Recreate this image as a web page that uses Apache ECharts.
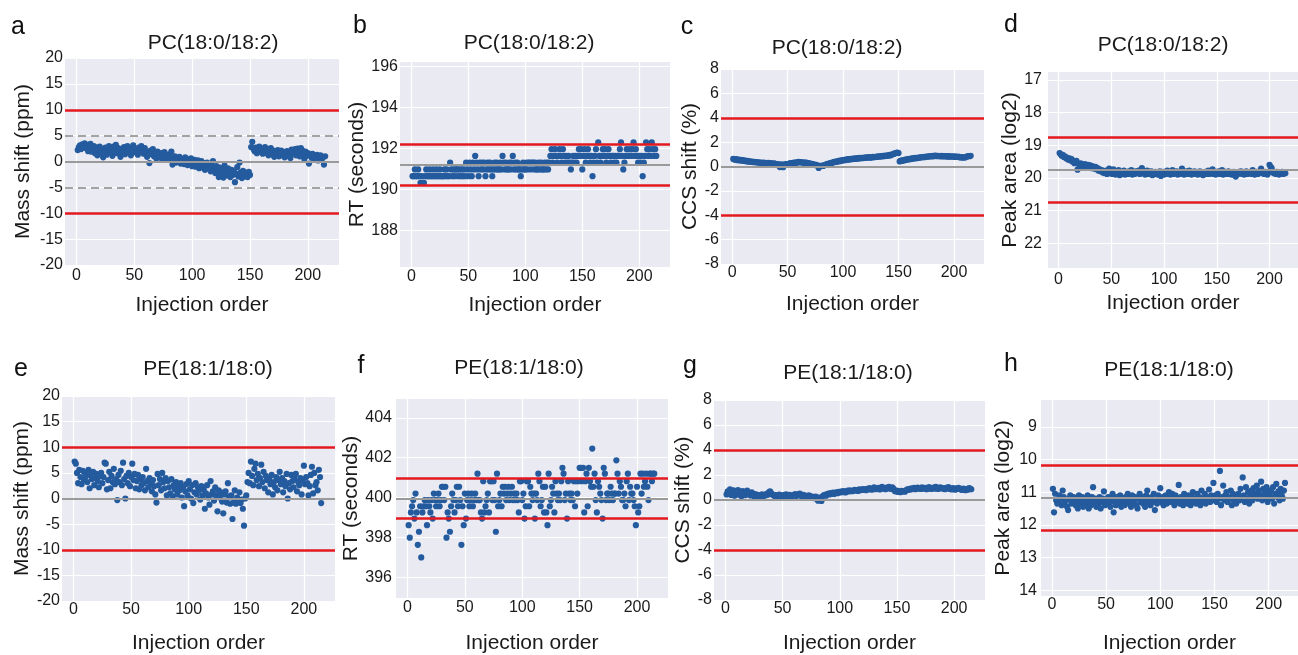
<!DOCTYPE html>
<html>
<head>
<meta charset="utf-8">
<script src="https://cdn.jsdelivr.net/npm/echarts@6/dist/echarts.min.js"></script>
<style>
html,body{margin:0;padding:0;background:#fff;}
#chart{width:1298px;height:655px;}
</style>
</head>
<body>
<div id="chart"></div>
<script>
// ---------------- DATA ----------------
const xTicks = [0, 50, 100, 150, 200];
const xLimits = [-10, 227];

// a: PC(18:0/18:2) mass shift (ppm)
const massShiftPC = [
2.2,2.8,3.1,2.4,3.3,2.9,3.5,2.6,3.2,2.0,
2.8,3.4,1.9,2.5,3.0,1.6,2.7,1.2,2.2,2.9,
1.5,2.4,0.8,2.0,2.7,1.3,2.3,3.0,1.8,2.5,
1.1,2.9,2.2,3.2,1.6,2.6,2.0,0.9,2.4,1.7,
2.8,1.4,2.2,3.0,1.9,2.6,1.2,2.3,3.1,1.8,
2.5,2.0,1.3,2.7,1.9,3.0,2.2,1.5,2.6,2.0,
0.9,1.8,-0.3,2.1,1.4,2.4,1.0,1.7,0.6,1.9,
1.3,0.8,1.6,0.5,1.2,1.8,0.7,1.1,0.3,1.4,
0.6,1.9,-0.6,0.4,1.0,-0.2,0.7,0.2,0.9,-0.4,
0.5,0.1,-0.5,0.8,0.0,-0.7,0.4,-0.3,0.6,-0.9,
-0.1,0.3,-1.0,-0.4,0.2,-1.3,-0.6,0.1,-1.1,-0.3,
-1.6,-0.8,-0.2,-1.4,-0.7,-1.9,-1.0,0.1,-1.5,-2.2,
-0.9,-1.8,-3.0,-1.2,-2.4,-1.6,-3.1,-0.8,-2.0,-2.7,
-1.3,-2.2,-3.0,-1.6,-2.6,-1.9,-4.0,-2.4,-1.1,-2.9,
-0.2,-2.1,-3.2,-1.8,-2.5,-2.9,-2.2,-3.0,-2.0,-2.6,
2.8,3.8,2.4,2.0,2.7,1.6,2.3,2.9,1.9,2.5,
1.5,2.2,2.8,1.7,2.4,1.2,2.0,2.6,1.4,2.1,
0.9,1.8,1.3,2.2,1.0,1.7,2.1,1.2,1.8,0.8,
1.6,2.0,1.1,1.9,0.7,2.3,1.5,1.8,2.4,1.2,
2.5,1.7,1.0,2.6,2.2,1.4,0.5,1.9,1.1,1.6,
-0.4,1.3,0.8,1.5,0.3,1.1,0.6,1.3,0.2,0.9,
1.2,0.4,0.8,-0.6,1.0
];
// b: PC(18:0/18:2) RT (seconds)
const rtPC = [
190.63,190.63,190.96,190.63,190.63,190.96,190.63,190.30,190.63,190.30,
190.30,190.63,190.96,190.63,190.63,190.96,190.63,190.63,190.96,190.63,
190.63,190.96,190.63,190.63,190.96,190.63,190.63,190.63,190.96,190.63,
190.96,190.63,190.63,191.29,190.96,190.63,190.96,190.63,190.96,190.96,
190.63,190.96,190.63,190.96,190.63,190.96,190.63,191.29,190.96,190.63,
191.29,190.96,190.63,191.29,190.96,191.62,191.29,190.96,190.63,191.29,
190.96,191.29,190.96,191.29,190.63,190.96,191.29,190.96,191.29,190.96,
190.63,190.96,191.29,190.96,191.29,190.96,190.96,191.29,190.96,191.62,
191.29,190.96,191.29,190.96,190.96,191.29,190.96,191.29,191.62,190.96,
191.29,190.96,191.29,190.96,190.96,190.63,190.96,191.29,190.96,190.96,
191.29,190.96,191.29,191.29,190.96,191.29,191.29,190.96,191.29,190.96,
190.96,191.29,190.96,191.29,190.96,190.96,191.29,190.96,191.29,190.96,
191.29,191.62,191.95,191.29,191.62,191.95,191.62,191.29,191.62,191.95,
191.62,191.29,191.95,191.62,191.29,191.62,191.29,191.62,191.29,190.96,
191.29,191.62,191.29,191.62,191.29,191.62,191.95,191.62,191.95,190.96,
191.62,191.95,191.29,191.62,191.95,191.62,191.29,191.62,190.63,191.29,
191.62,191.95,191.29,192.28,191.62,191.29,191.62,191.95,191.62,191.95,
191.29,191.62,191.95,191.62,191.29,191.62,191.62,191.29,191.62,191.29,
191.62,191.62,191.95,192.28,191.62,190.96,191.29,191.62,191.95,191.62,
191.62,191.95,191.62,191.95,192.28,191.62,191.95,191.62,191.29,191.62,
191.29,191.62,190.63,191.29,191.62,192.28,191.95,191.62,191.95,191.62,
192.28,191.95,191.62,191.95,191.62
];
// c: PC(18:0/18:2) CCS shift (%)
const ccsPC = [
0.62,0.58,0.55,0.60,0.52,0.57,0.50,0.55,0.48,0.52,
0.45,0.48,0.42,0.46,0.40,0.43,0.38,0.41,0.36,0.39,
0.34,0.37,0.32,0.35,0.30,0.33,0.28,0.32,0.30,0.27,
0.30,0.26,0.29,0.25,0.28,0.24,0.22,0.26,0.21,0.18,
0.20,0.16,-0.05,0.18,0.14,-0.06,0.17,0.15,0.20,0.18,
0.22,0.25,0.28,0.24,0.30,0.33,0.29,0.35,0.32,0.38,
0.34,0.37,0.33,0.30,0.34,0.28,0.31,0.25,0.27,0.22,
0.24,0.18,0.20,0.15,0.12,0.14,0.08,-0.12,0.06,0.04,
0.08,0.05,0.10,0.14,0.18,0.22,0.20,0.26,0.30,0.28,
0.34,0.38,0.36,0.42,0.40,0.46,0.44,0.50,0.48,0.52,
0.55,0.52,0.58,0.56,0.60,0.57,0.62,0.60,0.64,0.62,
0.66,0.63,0.68,0.65,0.70,0.67,0.72,0.69,0.74,0.70,
0.76,0.72,0.78,0.74,0.72,0.77,0.80,0.75,0.78,0.82,
0.79,0.84,0.80,0.86,0.82,0.88,0.85,0.90,0.86,0.92,
0.89,0.95,0.92,0.98,1.02,1.05,1.08,1.12,1.15,1.10,
0.42,0.48,0.45,0.52,0.50,0.56,0.54,0.60,0.58,0.63,
0.61,0.66,0.64,0.68,0.70,0.67,0.72,0.74,0.71,0.76,
0.78,0.75,0.80,0.77,0.82,0.80,0.84,0.82,0.86,0.83,
0.88,0.85,0.90,0.87,0.84,0.88,0.86,0.83,0.87,0.85,
0.82,0.86,0.84,0.81,0.85,0.83,0.80,0.84,0.82,0.79,
0.83,0.80,0.78,0.82,0.76,0.74,0.78,0.72,0.76,0.74,
0.80,0.83,0.86,0.84,0.88
];
// d: PC(18:0/18:2) peak area (log2)
const peakPC = [
19.24,19.28,19.32,19.30,19.36,19.34,19.40,19.38,19.44,19.40,
19.46,19.42,19.50,19.47,19.55,19.52,19.48,19.75,19.58,19.62,
19.56,19.64,19.60,19.66,19.58,19.63,19.68,19.60,19.66,19.62,
19.70,19.64,19.68,19.72,19.66,19.74,19.70,19.78,19.74,19.80,
19.76,19.84,19.80,19.86,19.78,19.88,19.82,19.72,19.86,19.80,
19.88,19.74,19.84,19.90,19.80,19.86,19.76,19.92,19.82,19.88,
19.84,19.78,19.90,19.86,19.82,19.88,19.80,19.86,19.76,19.90,
19.84,19.88,19.80,19.86,19.82,19.78,19.88,19.84,19.70,19.86,
19.82,19.90,19.84,19.78,19.88,19.82,19.86,19.80,19.92,19.84,
19.88,19.82,19.86,19.90,19.84,19.80,19.94,19.86,19.82,19.90,
19.84,19.88,19.78,19.86,19.82,19.90,19.84,19.76,19.88,19.82,
19.86,19.80,19.90,19.84,19.88,19.82,19.72,19.86,19.90,19.84,
19.80,19.88,19.84,19.78,19.86,19.90,19.82,19.86,19.80,19.88,
19.84,19.90,19.86,19.80,19.88,19.84,19.92,19.86,19.82,19.88,
19.84,19.78,19.88,19.82,19.86,19.74,19.88,19.84,19.90,19.82,
19.86,19.80,19.88,19.84,19.76,19.90,19.86,19.82,19.88,19.84,
19.80,19.88,19.84,19.90,19.86,19.82,19.92,19.96,19.84,19.88,
19.82,19.86,19.80,19.88,19.84,19.90,19.86,19.80,19.88,19.84,
19.86,19.82,19.88,19.76,19.84,19.90,19.86,19.82,19.88,19.84,
19.80,19.72,19.86,19.84,19.88,19.82,19.86,19.90,19.84,19.60,
19.66,19.70,19.80,19.86,19.84,19.88,19.82,19.86,19.90,19.84,
19.86,19.82,19.88,19.84,19.86
];
// e: PE(18:1/18:0) mass shift (ppm)
const massShiftPE = [
7.2,6.8,5.0,3.0,5.6,4.2,2.8,5.4,3.6,5.0,
4.4,3.2,5.6,2.0,4.6,3.8,5.2,2.6,4.0,4.8,
3.4,2.2,4.4,5.0,3.0,4.2,7.0,6.8,1.8,3.6,
5.2,2.0,4.4,3.2,5.8,2.8,3.8,-0.3,4.6,3.2,
5.4,2.6,7.0,3.8,0.0,4.4,3.0,5.0,2.4,4.2,
6.8,3.6,4.8,2.0,3.4,4.6,1.8,3.8,2.6,4.2,
3.0,1.6,5.8,3.4,2.2,4.0,2.8,1.4,3.6,2.4,
0.8,-0.8,4.8,2.6,3.8,1.6,5.0,3.2,2.0,4.0,
0.6,3.4,2.2,1.0,3.8,0.4,2.6,1.8,3.2,0.8,
2.4,1.6,3.0,0.2,2.2,-1.5,1.4,2.8,0.6,3.4,
1.8,0.0,2.6,-0.9,1.2,3.0,0.8,2.2,1.6,-0.2,
2.4,0.6,1.8,-2.0,1.0,2.6,0.2,-1.2,3.4,0.8,
1.4,-0.4,2.2,0.6,-2.5,1.6,0.2,1.2,-0.6,-2.9,
0.8,1.4,-0.8,3.0,0.4,-1.0,0.6,-4.0,-0.8,1.6,
-1.0,0.2,-0.6,1.2,-0.9,-0.2,-2.0,-5.3,0.0,0.6,
3.2,5.0,3.0,7.2,4.4,2.6,5.8,6.8,3.6,4.8,
2.4,4.0,6.6,3.2,5.2,2.0,4.4,3.6,1.2,3.8,
2.8,4.6,0.8,3.2,2.2,4.2,1.6,3.6,5.2,2.8,
4.0,1.2,3.4,2.4,4.8,0.0,3.0,1.8,4.6,3.4,
2.2,3.8,4.8,1.4,3.2,2.6,4.0,0.8,3.6,6.4,
2.8,4.2,3.0,0.6,2.4,4.6,6.2,1.0,5.0,2.6,
3.2,1.6,5.6,4.2,-0.9
];
// f: PE(18:1/18:0) RT (seconds)
const rtPE = [
398.61,397.98,399.25,399.56,399.87,398.94,400.20,399.25,397.62,398.28,
399.56,396.99,399.25,399.56,399.87,399.56,398.61,399.87,399.56,399.25,
399.87,398.94,400.20,399.87,399.56,399.87,400.20,399.56,399.87,400.54,
400.54,399.87,400.54,397.98,399.25,398.94,398.28,399.56,400.20,399.87,
399.25,399.87,400.54,399.56,400.54,399.87,397.62,399.56,398.61,400.20,
398.94,399.87,400.20,399.56,399.87,400.20,399.56,399.87,400.20,399.87,
401.20,399.87,399.87,399.25,398.94,400.82,399.25,399.56,399.87,400.20,
399.25,400.82,400.82,399.87,400.82,399.87,398.28,401.20,399.56,399.87,
400.20,399.56,400.54,400.20,400.54,399.87,400.20,400.54,399.87,400.20,
400.54,399.87,400.20,399.87,400.20,399.87,399.25,400.82,400.82,399.87,
400.20,398.94,399.56,400.82,400.82,399.56,400.54,400.20,399.87,400.20,
398.94,400.20,399.87,401.20,400.82,399.56,399.87,400.54,399.25,400.54,
399.25,398.61,401.20,399.56,399.87,400.54,400.20,399.25,400.82,400.20,
399.87,400.20,399.87,400.82,401.49,401.20,399.87,400.20,398.94,400.82,
400.20,399.87,400.20,399.87,400.82,399.56,400.82,400.20,400.82,401.49,
401.49,400.82,401.49,399.25,400.82,401.20,399.56,401.49,400.82,400.54,
402.46,400.54,401.20,399.87,399.25,400.82,400.54,400.20,399.87,398.94,
401.49,401.20,399.87,400.20,400.20,399.87,400.54,400.20,399.87,400.20,
400.20,401.87,401.20,400.20,400.82,400.54,399.87,399.87,400.20,399.56,
400.82,401.20,399.87,400.54,400.20,400.20,399.87,399.56,398.61,400.54,
399.25,399.56,401.20,400.20,401.20,400.54,400.82,401.20,400.54,399.87,
401.20,401.20,400.82,401.20,401.20
];
// g: PE(18:1/18:0) CCS shift (%)
const ccsPE = [
0.45,0.70,0.55,0.85,0.40,0.62,0.78,0.35,0.68,0.50,
0.80,0.42,0.65,0.30,0.72,0.55,0.38,0.60,0.75,0.45,
0.52,0.36,0.62,0.40,0.30,0.48,0.35,0.42,0.28,0.38,
0.33,0.45,0.30,0.40,0.36,0.50,0.42,0.62,0.70,0.55,
0.45,0.38,0.32,0.40,0.28,0.36,0.44,0.30,0.38,0.25,
0.40,0.32,0.46,0.28,0.38,0.42,0.34,0.26,0.40,0.36,
0.48,0.32,0.44,0.38,0.52,0.35,0.30,0.42,0.28,0.36,
0.32,0.25,0.38,0.22,0.30,0.18,0.26,0.15,0.28,0.08,
-0.05,0.20,0.05,-0.08,0.30,0.38,0.42,0.35,0.48,0.52,
0.45,0.55,0.50,0.60,0.48,0.58,0.62,0.55,0.66,0.60,
0.68,0.62,0.72,0.65,0.60,0.70,0.75,0.68,0.78,0.72,
0.70,0.76,0.82,0.74,0.80,0.72,0.85,0.78,0.82,0.88,
0.80,0.86,0.78,0.90,0.84,0.95,0.88,0.82,0.92,1.02,
0.86,0.94,0.88,0.98,0.84,0.92,1.05,0.90,0.96,0.86,
1.00,0.92,1.06,0.95,0.88,1.02,0.90,0.72,0.68,0.75,
0.65,0.70,0.62,0.74,0.68,0.72,0.66,0.78,0.85,0.80,
0.90,0.84,0.94,0.88,0.98,0.86,0.92,1.00,0.90,0.96,
0.88,1.02,0.94,0.90,0.98,0.86,0.95,1.04,0.92,0.88,
0.96,1.00,0.90,1.06,0.94,0.88,0.98,1.02,0.92,0.96,
0.90,0.86,0.98,0.94,1.04,0.88,0.92,0.84,0.96,0.90,
0.82,0.94,0.88,0.98,0.90,0.84,0.80,0.92,0.86,0.78,
0.88,0.82,0.96,0.92,0.86
];
// h: PE(18:1/18:0) peak area (log2)
const peakPE = [
10.90,11.62,11.05,11.25,11.35,11.30,11.10,11.20,11.40,10.95,
11.15,11.30,11.25,11.45,11.55,11.20,11.10,11.35,11.25,11.15,
11.30,11.40,11.20,11.50,11.10,11.35,11.25,11.15,11.45,11.30,
11.20,11.35,11.10,11.50,11.25,11.40,11.15,10.85,11.30,11.20,
11.45,11.25,11.35,11.15,11.50,11.30,11.20,10.98,11.40,11.25,
11.35,11.15,11.30,11.45,11.20,11.05,11.62,11.30,11.40,11.15,
11.25,11.35,11.10,11.45,11.20,11.30,11.40,11.15,11.25,11.05,
11.35,11.20,11.45,11.10,11.30,11.25,11.15,11.40,11.50,11.20,
11.05,11.30,11.15,11.35,11.25,11.45,11.10,10.95,11.30,11.20,
11.40,11.15,11.30,11.05,11.55,11.25,11.35,11.10,11.20,10.88,
11.30,11.15,11.40,11.25,11.10,11.35,11.20,11.00,11.30,11.15,
11.05,11.25,11.40,11.10,11.30,11.20,10.78,11.35,11.15,11.25,
11.40,11.05,11.30,11.20,11.35,11.10,11.25,11.40,11.15,11.00,
11.30,11.20,11.35,11.05,11.25,11.15,11.40,10.95,11.30,11.20,
11.05,11.35,11.15,11.25,10.92,11.30,11.10,11.20,10.72,11.25,
11.10,11.30,11.05,11.20,10.35,11.40,11.15,10.80,11.25,11.10,
11.00,11.30,11.15,11.20,10.95,11.40,11.05,11.25,11.10,11.35,
11.15,11.05,11.25,10.90,11.20,10.55,11.10,11.30,10.85,11.20,
11.00,11.35,11.10,10.95,11.25,10.88,11.15,11.05,10.80,11.20,
10.95,11.10,10.68,11.25,10.90,11.05,11.15,10.85,11.30,11.00,
11.10,10.95,11.20,10.85,11.35,11.05,10.75,11.15,10.98,11.25,
10.90,11.10,11.20,10.95,10.72
];

// reference lines (limits, centre, dashed)
const limitsMassPC = [10, -10], centreMassPC = [0], dashedMassPC = [5, -5];
const limitsRtPC = [192.2, 190.2], centreRtPC = [191.2];
const limitsCcsPC = [4, -4], centreCcsPC = [0];
const limitsPeakPC = [18.76, 20.76], centrePeakPC = [19.76];
const limitsMassPE = [10, -10], centreMassPE = [0];
const limitsRtPE = [400.95, 398.95], centreRtPE = [399.95];
const limitsCcsPE = [4, -4], centreCcsPE = [0];
const limitsPeakPE = [10.18, 12.18], centrePeakPE = [11.18];

// axis ranges and tick labels
const yRangeMass = [-20, 20], yTicksMass = [-20, -15, -10, -5, 0, 5, 10, 15, 20];
const yRangeRtPC = [186.2, 196.2], yTicksRtPC = [188, 190, 192, 194, 196];
const yRangeCcs = [-8, 8], yTicksCcs = [-8, -6, -4, -2, 0, 2, 4, 6, 8];
const yRangePeakPC = [16.76, 22.76], yTicksPeakPC = [17, 18, 19, 20, 21, 22];
const yRangeRtPE = [394.95, 404.95], yTicksRtPE = [396, 398, 400, 402, 404];
const yRangePeakPE = [8.18, 14.18], yTicksPeakPE = [9, 10, 11, 12, 13, 14];

const titlesTop = 'PC(18:0/18:2)', titlesBottom = 'PE(18:1/18:0)';
const xName = 'Injection order';

// ---------------- LAYOUT ----------------
const FONT = '"Liberation Sans", Arial, sans-serif';
const panels = [
 {letter:'a', title:titlesTop, yName:'Mass shift (ppm)', vals:massShiftPC, range:yRangeMass, ticks:yTicksMass, limits:limitsMassPC, centre:centreMassPC, dashed:dashedMassPC,
  box:[65,58,274,207], yGap:31, xGap:30, xMargin:3, yMargin:2, titlePos:[213,43], letterPos:[18,27]},
 {letter:'b', title:titlesTop, yName:'RT (seconds)', vals:rtPC, range:yRangeRtPC, ticks:yTicksRtPC, limits:limitsRtPC, centre:centreRtPC,
  box:[400,62,270,205], yGap:26, xGap:28, xMargin:2, yMargin:2, titlePos:[529,43], letterPos:[360,26]},
 {letter:'c', title:titlesTop, yName:'CCS shift (%)', vals:ccsPC, range:yRangeCcs, ticks:yTicksCcs, limits:limitsCcsPC, centre:centreCcsPC,
  box:[721,69,263,195], yGap:15, xGap:30, xMargin:1, yMargin:2, titlePos:[837,48], letterPos:[687,27]},
 {letter:'d', title:titlesTop, yName:'Peak area (log2)', vals:peakPC, range:yRangePeakPC, ticks:yTicksPeakPC, limits:limitsPeakPC, centre:centrePeakPC, inverse:true,
  box:[1048,72,262,196], yGap:22, xGap:25, xMargin:4, yMargin:6, titlePos:[1163,45], letterPos:[1011,25]},
 {letter:'e', title:titlesBottom, yName:'Mass shift (ppm)', vals:massShiftPE, range:yRangeMass, ticks:yTicksMass, limits:limitsMassPE, centre:centreMassPE,
  box:[62,396,273,207], yGap:29, xGap:32, xMargin:1, yMargin:2, titlePos:[208,369], letterPos:[21,369]},
 {letter:'f', title:titlesBottom, yName:'RT (seconds)', vals:rtPE, range:yRangeRtPE, ticks:yTicksRtPE, limits:limitsRtPE, centre:centreRtPE,
  box:[396,399,272,201], yGap:27, xGap:35, xMargin:2, yMargin:4, titlePos:[519,368], letterPos:[361,366]},
 {letter:'g', title:titlesBottom, yName:'CCS shift (%)', vals:ccsPE, range:yRangeCcs, ticks:yTicksCcs, limits:limitsCcsPE, centre:centreCcsPE,
  box:[714,400,271,203], yGap:20, xGap:33, xMargin:1, yMargin:2, titlePos:[848,373], letterPos:[690,366]},
 {letter:'h', title:titlesBottom, yName:'Peak area (log2)', vals:peakPE, range:yRangePeakPE, ticks:yTicksPeakPE, limits:limitsPeakPE, centre:centrePeakPE, inverse:true,
  box:[1041,400,268,199], yGap:27, xGap:37, xMargin:1, yMargin:4, titlePos:[1169,370], letterPos:[1011,364]}
];

const RED = '#e3191f', GREY = '#9a9a9a', DOT = '#245b9e', BG = '#eaeaf2', TXT = '#1a1a1a';

const grid = [], xAxis = [], yAxis = [], series = [], graphic = [];
panels.forEach((p, i) => {
  const [l, t, w, h] = p.box;
  grid.push({left:l, top:t, width:w, height:h, show:true, backgroundColor:BG, borderWidth:0, containLabel:false});
  xAxis.push({
    type:'value', gridIndex:i, min:xLimits[0], max:xLimits[1],
    name:xName, nameLocation:'middle', nameGap:p.xGap,
    nameTextStyle:{fontFamily:FONT, fontSize:21, color:TXT},
    axisLine:{show:false},
    axisTick:{show:false, customValues:xTicks},
    axisLabel:{customValues:xTicks, fontFamily:FONT, fontSize:16, color:TXT, margin:p.xMargin},
    splitLine:{show:true, lineStyle:{color:'#ffffff', width:1.2}}
  });
  yAxis.push({
    type:'value', gridIndex:i, min:p.range[0], max:p.range[1], inverse:!!p.inverse,
    name:p.yName, nameLocation:'middle', nameGap:p.yGap,
    nameTextStyle:{fontFamily:FONT, fontSize:21, color:TXT},
    axisLine:{show:false},
    axisTick:{show:false, customValues:p.ticks},
    axisLabel:{customValues:p.ticks, fontFamily:FONT, fontSize:16, color:TXT, margin:p.yMargin},
    splitLine:{show:true, lineStyle:{color:'#ffffff', width:1.2}}
  });
  const lines = [];
  p.centre.forEach(v => lines.push({yAxis:v, lineStyle:{color:GREY, width:2.2, type:'solid'}}));
  (p.dashed || []).forEach(v => lines.push({yAxis:v, lineStyle:{color:'#a3a3a3', width:2.2, type:[8,5]}}));
  p.limits.forEach(v => lines.push({yAxis:v, lineStyle:{color:RED, width:2.5, type:'solid'}}));
  series.push({
    type:'line', xAxisIndex:i, yAxisIndex:i, data:[], z:1, silent:true,
    markLine:{silent:true, symbol:'none', label:{show:false}, animation:false, data:lines}
  });
  series.push({
    type:'scatter', xAxisIndex:i, yAxisIndex:i, z:3, symbolSize:6.2,
    itemStyle:{color:DOT, opacity:1},
    data:p.vals.map((v, k) => [k + 1, v])
  });
  graphic.push({type:'text', x:p.titlePos[0], y:p.titlePos[1],
    style:{text:p.title, fill:TXT, font:'21px ' + FONT, textAlign:'center', textVerticalAlign:'middle'}});
  graphic.push({type:'text', x:p.letterPos[0], y:p.letterPos[1],
    style:{text:p.letter, fill:'#111', font:'25px ' + FONT, textAlign:'center', textVerticalAlign:'middle'}});
});

const chart = echarts.init(document.getElementById('chart'), null, {renderer:'canvas'});
chart.setOption({animation:false, backgroundColor:'#ffffff', grid, xAxis, yAxis, series, graphic});
</script>
</body>
</html>
